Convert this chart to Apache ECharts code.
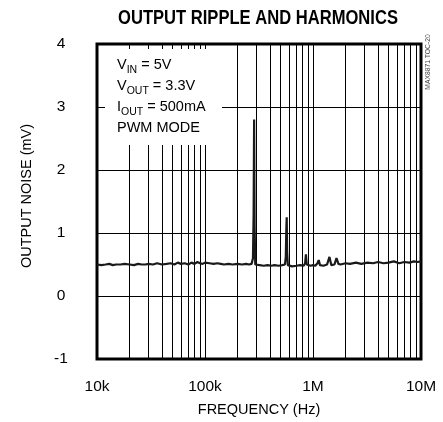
<!DOCTYPE html>
<html>
<head>
<meta charset="utf-8">
<script src="https://cdn.jsdelivr.net/npm/echarts@6/dist/echarts.min.js"></script>
<style>html,body{margin:0;padding:0;background:#fff}#c{width:443px;height:422px}</style>
</head>
<body>
<div id="c"></div>
<script>
// ---- data ----
var freqHz = [10000, 11000, 12000, 13000, 14000, 15000, 16500, 18000, 20000, 22000, 24000, 26000, 28000, 30000, 33000, 36000, 40000, 44000, 48000, 52000, 56000, 60000, 65000, 70000, 75000, 80000, 85000, 90000, 95000, 100000, 110000, 120000, 130000, 140000, 150000, 165000, 180000, 200000, 220000, 240000, 255000, 270000, 278000, 282000, 285000, 288000, 292000, 300000, 320000, 350000, 380000, 410000, 440000, 480000, 520000, 550000, 560000, 566000, 571000, 576000, 585000, 600000, 640000, 700000, 760000, 820000, 845000, 860000, 875000, 900000, 950000, 1000000, 1050000, 1100000, 1130000, 1160000, 1250000, 1350000, 1420000, 1480000, 1580000, 1650000, 1720000, 1800000, 2000000, 2200000, 2500000, 2800000, 3200000, 3600000, 4000000, 4500000, 5000000, 5600000, 6300000, 7000000, 7800000, 8600000, 9300000, 10000000];
var noiseMv = [0.50, 0.49, 0.50, 0.51, 0.49, 0.50, 0.50, 0.51, 0.50, 0.49, 0.51, 0.50, 0.50, 0.51, 0.50, 0.52, 0.50, 0.51, 0.52, 0.50, 0.53, 0.51, 0.52, 0.50, 0.53, 0.51, 0.54, 0.52, 0.51, 0.53, 0.52, 0.51, 0.52, 0.51, 0.50, 0.51, 0.50, 0.51, 0.50, 0.51, 0.50, 0.51, 0.60, 1.30, 2.80, 1.10, 0.50, 0.48, 0.49, 0.48, 0.49, 0.48, 0.49, 0.48, 0.49, 0.50, 0.62, 1.05, 1.25, 0.70, 0.49, 0.48, 0.47, 0.48, 0.49, 0.48, 0.52, 0.66, 0.50, 0.47, 0.48, 0.49, 0.48, 0.52, 0.57, 0.49, 0.48, 0.50, 0.62, 0.49, 0.50, 0.60, 0.51, 0.50, 0.52, 0.51, 0.53, 0.51, 0.53, 0.52, 0.54, 0.52, 0.53, 0.55, 0.52, 0.54, 0.53, 0.55, 0.54, 0.55];
var minorGridHz = [20000, 30000, 40000, 50000, 60000, 70000, 80000, 90000,
                   200000, 300000, 400000, 500000, 600000, 700000, 800000, 900000,
                   2000000, 3000000, 4000000, 5000000, 6000000, 7000000, 8000000, 9000000];
var xTickLabels = {10000: '10k', 100000: '100k', 1000000: '1M', 10000000: '10M'};
var yMin = -1, yMax = 4, yStep = 1;
var titleText = 'OUTPUT RIPPLE AND HARMONICS';
var xName = 'FREQUENCY (Hz)';
var yName = 'OUTPUT NOISE (mV)';
var noteLines = [
  ['V', 'IN', ' = 5V'],
  ['V', 'OUT', ' = 3.3V'],
  ['I', 'OUT', ' = 500mA'],
  ['PWM MODE', '', '']
];
var figCode = 'MAX8871 TOC-20';

// ---- chart ----
var pts = freqHz.map(function (f, i) { return [f, noiseMv[i]]; });
var font = "'Liberation Sans', Arial, Helvetica, sans-serif";

var noteGraphics = noteLines.map(function (l, i) {
  var txt = l[1] ? ('{m|' + l[0] + '}{s|' + l[1] + '}{m|' + l[2] + '}') : ('{m|' + l[0] + '}');
  return {
    type: 'text', left: 117, top: 57 + i * 21, z: 101,
    style: {
      text: txt,
      rich: {
        m: {fontSize: 14.5, fontFamily: font, fill: '#000', lineHeight: 16, verticalAlign: 'top'},
        s: {fontSize: 10.5, fontFamily: font, fill: '#000', lineHeight: 10, padding: [8, 0, 0, 0], verticalAlign: 'top'}
      }
    }
  };
});

var chart = echarts.init(document.getElementById('c'), null, {renderer: 'canvas'});
chart.setOption({
  backgroundColor: '#fff',
  animation: false,
  grid: {left: 97, right: 22, top: 44, bottom: 58, show: true, borderColor: '#000', borderWidth: 3, backgroundColor: 'transparent'},
  xAxis: {
    type: 'log', logBase: 10, min: 10000, max: 10000000,
    name: xName, nameLocation: 'middle', nameGap: 43,
    nameTextStyle: {fontFamily: font, fontSize: 14.5, color: '#000'},
    axisLine: {show: false}, axisTick: {show: false},
    axisLabel: {fontFamily: font, fontSize: 15.5, color: '#000', margin: 20,
      formatter: function (v) { return xTickLabels[Math.round(v)] || ''; }},
    splitLine: {show: true, lineStyle: {color: '#000', width: 1}}
  },
  yAxis: {
    type: 'value', min: yMin, max: yMax, interval: yStep,
    axisLine: {show: false}, axisTick: {show: false},
    axisLabel: {fontFamily: font, fontSize: 15.5, color: '#000', margin: 36, align: 'center'},
    splitLine: {show: true, lineStyle: {color: '#000', width: 1}}
  },
  graphic: [
    {type: 'text', x: 258, y: 19, scaleX: 0.85, z: 101,
      style: {text: titleText, fontFamily: font, fontWeight: 'bold', fontSize: 19.5, fill: '#000', textAlign: 'center', textVerticalAlign: 'middle'}},
    {type: 'rect', shape: {x: 105, y: 49, width: 117, height: 96}, style: {fill: '#fff'}, z: 100},
    {type: 'text', x: 27, y: 196, rotation: Math.PI / 2, z: 101,
      style: {text: yName, fontFamily: font, fontSize: 14.5, fill: '#000', textAlign: 'center', textVerticalAlign: 'middle'}},
    {type: 'text', x: 428, y: 62, rotation: Math.PI / 2, z: 101, scaleX: 0.9,
      style: {text: figCode, fontFamily: font, fontSize: 7.5, fill: '#444', textAlign: 'center', textVerticalAlign: 'middle'}}
  ].concat(noteGraphics),
  series: [{
    type: 'line', data: pts, symbol: 'none', smooth: false,
    lineStyle: {color: '#1a1a1a', width: 2.2},
    z: 5,
    markLine: {
      silent: true, symbol: 'none', label: {show: false},
      lineStyle: {color: '#000', width: 1, type: 'solid'},
      data: minorGridHz.map(function (f) { return {xAxis: f}; }),
      z: 1
    }
  }]
});
</script>
</body>
</html>
